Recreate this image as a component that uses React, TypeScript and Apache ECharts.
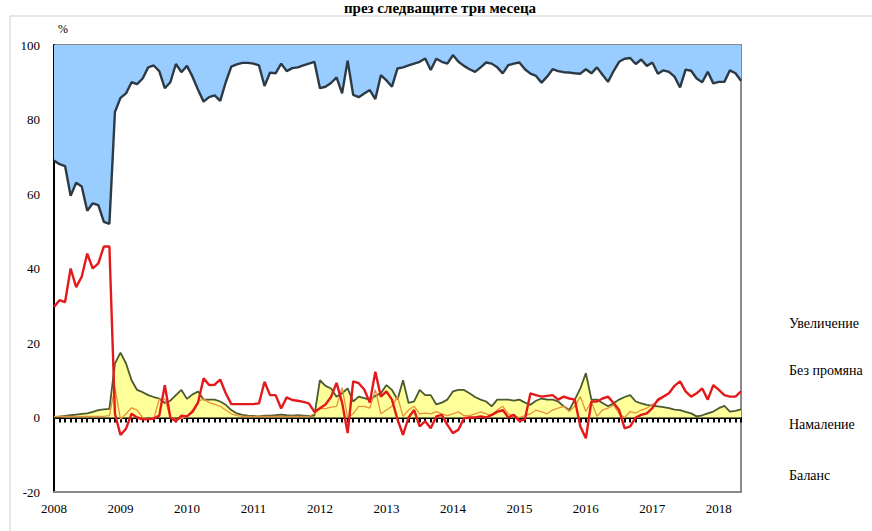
import React, { useEffect, useRef } from "react";
import * as echarts from "echarts";

const startYear = 2008;
const monthCount = 125;
const categories: string[] = [];
for (let i = 0; i < monthCount; i++) {
  const y = startYear + Math.floor(i / 12);
  const m = (i % 12) + 1;
  categories.push(`${y}-${m < 10 ? "0" + m : m}`);
}

const legendLabels = ["Увеличение", "Без промяна", "Намаление", "Баланс"];

// Без промяна (dark line, blue fill up to 100)
const noChange = [
  69, 68, 67.5, 59.5, 63, 62, 55.5, 57.5, 57, 52.5, 52, 82, 85.8, 87, 90, 89.5, 91, 94, 94.5, 93,
  88.4, 90, 94.9, 92.7, 94.4, 91.5, 88, 84.8, 86, 86.5, 85, 90, 94.2, 94.8, 95.2, 95.2, 95, 94.5, 89, 92.6,
  92.4, 95, 93, 93.8, 94, 94.5, 95, 95.5, 88.4, 88.8, 89.8, 91.3, 87, 95.8, 86.6, 86, 87, 87.9, 85.5, 91.9,
  90.5, 88.8, 93.7, 94, 94.5, 95, 95.5, 96.4, 93.3, 96.3, 95.5, 95, 97.3, 95.5, 94.4, 93.5, 92.8, 94, 95.3, 95,
  94, 92.4, 94.6, 95, 95.3, 93.5, 92.3, 91.7, 89.9, 91.5, 93.5, 93, 92.7, 92.6, 92.4, 92.3, 93.5, 92.4, 94, 92,
  90.1, 93, 95.5, 96.3, 96.5, 94.9, 96.1, 94.4, 95.3, 92.3, 93.2, 92.8, 91.5, 88.6, 93.4, 93.1, 91, 90, 92.8, 89.7,
  90.1, 90.1, 93.2, 92.4, 90.4,
];

// Намаление (yellow area, olive outline)
const decrease = [
  0, 0.2, 0.4, 0.6, 0.8, 1, 1.1, 1.5, 2, 2.2, 2.3, 14.5, 17.4, 14.5, 10, 7.4, 6.8, 6, 5.5, 5.1,
  3.9, 4.5, 6, 7.4, 5, 6.2, 7, 4.8, 4.8, 4.8, 4.3, 3.4, 2, 1.1, 0.7, 0.5, 0.4, 0.3, 0.5, 0.5,
  0.6, 0.8, 0.6, 0.5, 0.6, 0.5, 0.4, 0.5, 10, 8.5, 7.8, 5.6, 6.5, 7.8, 4.3, 5.6, 5.2, 4.8, 5.8, 6.5,
  8.7, 7.4, 4.8, 10, 3.9, 4.3, 7.4, 6, 6, 3.5, 4, 4.8, 7, 7.4, 7.4, 6.5, 5.5, 4.8, 4.3, 3,
  4.8, 4.8, 4.8, 4.5, 4.8, 4, 3.4, 4.5, 5.1, 4.8, 4.8, 4.3, 3, 2, 4.8, 7.8, 11.9, 4.8, 4.8, 3.9,
  3, 3.8, 4.8, 5.5, 6, 4.3, 3.8, 3.4, 3.2, 3, 2.8, 2.5, 2.1, 2, 1.5, 1.1, 0.3, 0.6, 1.1, 1.6,
  2.5, 3.1, 1.6, 1.8, 2.2,
];

// Увеличение (thin orange line)
const increase = [
  0.3, 0.3, 0.3, 0.3, 0.3, 0.3, 0.3, 0.3, 0.3, 0.3, 0.5, 8, -0.5, 1, 2.6, 2, 0, -0.5, -0.5, 5,
  5, 0, -0.5, -0.3, 0.3, 2, 4.3, 5, 4, 3.5, 3, 2, 1, 0.5, 0.3, 0.3, 0.3, 0.3, 0.3, 0.3,
  0.3, 0.3, 0.3, 0.3, 0.3, 0.3, 0.3, 1, 2.4, 2.4, 2.8, 3, 8, 0, 1, 3, 3, 2.5, 7.5, 1,
  2, 3, 5.6, 0.3, 2, 3, 1, 1.2, 1, 1.6, 1, 0.5, 1, 1.5, 0.5, 0.5, 1, 1.5, 1, 0.5,
  2, 3, 1, 0.5, 0, 0.5, 1, 2, 1.5, 1, 2, 2.5, 3, 1.6, 3, 5.6, 1.6, 4.3, 0.3, 2,
  2.5, 3.4, 1, 0, 1.6, 1.2, 2, 2.5, 3.5, 4.3, 5.6, 6.5, 8.5, 9.7, 7, 5.6, 6.5, 7.8, 4.8, 8.7,
  7.4, 6, 5.6, 5.6, 7,
];

// Баланс (thick red line)
const balance = [
  29.7, 31.5, 31, 40, 35, 37.8, 44, 40, 41.4, 45.9, 45.9, 1, -4.7, -3, 1, 0, -0.5, -0.5, -0.3, 0.5,
  8.7, 0, -1, 0.5, 0.3, 1.5, 4, 10.5, 8.7, 8.8, 10.2, 6.5, 3.6, 3.6, 3.6, 3.6, 3.6, 3.8, 9.6, 6,
  6, 2.4, 5.4, 4.7, 4.5, 4.2, 3.8, 1.5, 2.5, 3.5, 5.5, 9.3, 4, -4.2, 9.7, 9.2, 7.5, 4, 12.3, 5.6,
  7, 4.8, -0.5, -4.7, 0, 2, -2.4, -1, -2.9, 0.3, 0.7, -2, -4.2, -3.3, -0.2, 0, 0, 0.3, 0, 0.7,
  1.5, 2, 0, 0.7, -1, -0.5, 6.5, 6, 5.6, 5.8, 6, 4.8, 5.6, 5.1, 4.8, -2.4, -5.6, 4.3, 4.3, 5.1,
  5.6, 3.9, 2, -2.9, -2.4, 0, 0.7, 1.1, 2.5, 4.8, 5.6, 6.5, 8.5, 9.7, 7, 5.6, 6.5, 7.8, 4.8, 8.7,
  7.4, 6, 5.6, 5.6, 7,
];

const serif = "'Liberation Serif', 'DejaVu Serif', serif";

export default function App() {
  const ref = useRef<HTMLDivElement>(null);
  useEffect(() => {
    if (!ref.current) return;
    const chart = echarts.init(ref.current, undefined, { renderer: "svg" });
    const legendY = [323, 370, 424, 475];
    chart.setOption({
      animation: false,
      backgroundColor: "#ffffff",
      grid: {
        left: 54,
        right: 131,
        top: 45,
        bottom: 39,
        show: true,
        borderColor: "#8a8a8a",
        borderWidth: 2,
        backgroundColor: "transparent",
      },
      xAxis: [
        {
          type: "category",
          data: categories,
          boundaryGap: false,
          position: "bottom",
          axisLine: { show: true, onZero: false, lineStyle: { color: "#8a8a8a", width: 2 } },
          axisTick: { show: false },
          splitLine: { show: false },
          axisLabel: {
            interval: (idx: number) => idx % 12 === 0,
            formatter: (v: string) => v.slice(0, 4),
            color: "#000",
            fontFamily: serif,
            fontSize: 13,
            margin: 10,
          },
        },
        {
          type: "category",
          data: categories,
          boundaryGap: false,
          position: "bottom",
          axisLine: { show: true, onZero: true, lineStyle: { color: "#000", width: 2 } },
          axisTick: { show: true, interval: 0, length: 5, lineStyle: { color: "#000", width: 2 } },
          axisLabel: { show: false },
          splitLine: { show: false },
        },
      ],
      yAxis: {
        type: "value",
        min: -20,
        max: 100,
        interval: 20,
        axisLine: { show: true, lineStyle: { color: "#000", width: 2 } },
        axisTick: { show: false },
        splitLine: { show: false },
        axisLabel: { color: "#000", fontFamily: serif, fontSize: 13, margin: 14 },
      },
      series: [
        {
          name: "Без промяна",
          type: "line",
          data: noChange,
          symbol: "none",
          lineStyle: { color: "#2b3a44", width: 2.4 },
          areaStyle: { color: "#99ccff", opacity: 1, origin: "end" },
          z: 2,
        },
        {
          name: "Намаление",
          type: "line",
          data: decrease,
          symbol: "none",
          lineStyle: { color: "#4a5a30", width: 1.8 },
          areaStyle: { color: "#ffff99", opacity: 1, origin: 0 },
          z: 3,
        },
        {
          name: "Увеличение",
          type: "line",
          data: increase,
          symbol: "none",
          lineStyle: { color: "#e8903a", width: 1.3 },
          z: 4,
        },
        {
          name: "Баланс",
          type: "line",
          data: balance,
          symbol: "none",
          lineStyle: { color: "#e3191c", width: 2.4 },
          z: 5,
        },
      ],
      graphic: [
        {
          type: "rect",
          shape: { x: 10, y: 16, width: 880, height: 540 },
          style: { fill: "none", stroke: "#cfcfcf", lineWidth: 1 },
          silent: true,
        },
        {
          type: "text",
          x: 440,
          y: 0,
          style: {
            text: "през следващите три месеца",
            font: `bold 15px ${serif}`,
            fill: "#000",
            align: "center",
            verticalAlign: "top",
          },
        },
        {
          type: "text",
          x: 58,
          y: 29,
          style: { text: "%", font: `12px ${serif}`, fill: "#000", align: "left", verticalAlign: "middle" },
        },
        ...legendLabels.map((t, i) => ({
          type: "text",
          x: 789,
          y: legendY[i],
          style: { text: t, font: `14px ${serif}`, fill: "#000", align: "left", verticalAlign: "middle" },
        })),
      ],
    });
    return () => chart.dispose();
  }, []);
  return (
    <div
      ref={ref}
      style={{ position: "fixed", left: 0, top: 0, width: 872, height: 531, overflow: "hidden" }}
    />
  );
}
